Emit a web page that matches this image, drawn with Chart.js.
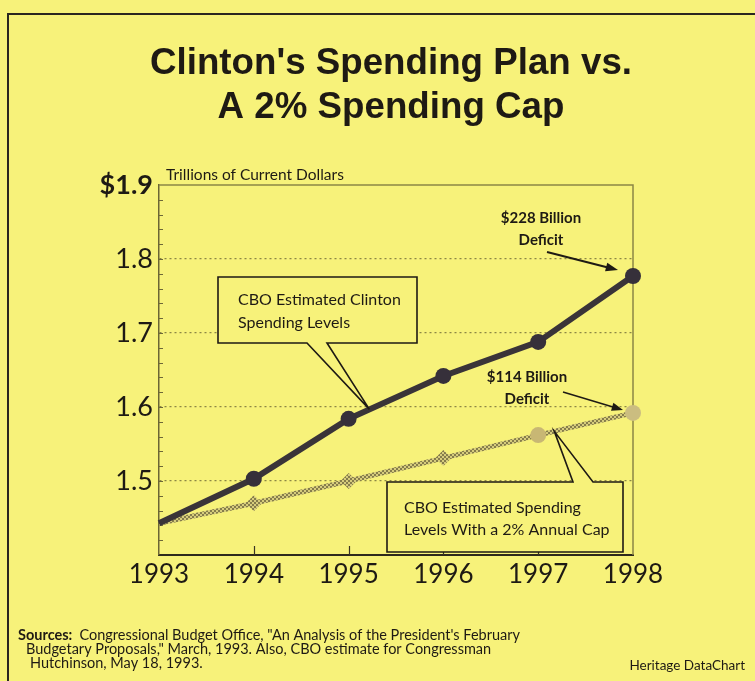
<!DOCTYPE html>
<html>
<head>
<meta charset="utf-8">
<script src="https://cdn.jsdelivr.net/npm/chart.js@4"></script>
<style>
html, body { margin: 0; padding: 0; background: #f7f27a; }
canvas { display: block; }
</style>
</head>
<body>
<canvas id="myChart" width="755" height="681"></canvas>
<script>
// data (trillions of current dollars)
var years = ["1993", "1994", "1995", "1996", "1997", "1998"];
var clintonSpending = [1.443, 1.503, 1.584, 1.642, 1.688, 1.777];
var cappedSpending = [1.443, 1.470, 1.500, 1.531, 1.562, 1.592];
var yMin = 1.4, yMax = 1.9, yStep = 0.1, yMinorStep = 0.02;

var titleLines = ["Clinton's Spending Plan vs.", "A 2% Spending Cap"];
var unitLabel = "Trillions of Current Dollars";
var clintonNote = ["CBO Estimated Clinton", "Spending Levels"];
var capNote = ["CBO Estimated Spending", "Levels With a 2% Annual Cap"];
var deficit1998 = ["$228 Billion", "Deficit"];
var deficitCap = ["$114 Billion", "Deficit"];
var sourceLines = [
    "Congressional Budget Office, \"An Analysis of the President's February",
    "Budgetary Proposals,\" March, 1993. Also, CBO estimate for Congressman",
    "Hutchinson, May 18, 1993."
];
var creditText = "Heritage DataChart";

var BG = "#f7f27a";
var INK = "#1e1a14";
var OLIVE = "#8c8645";
var FONT = "Lato, 'DejaVu Sans', sans-serif";

// checkered texture for the capped series, like the old halftone print
function makeHatch() {
    var c = document.createElement("canvas");
    c.width = 4; c.height = 4;
    var g = c.getContext("2d");
    g.fillStyle = "#d6cc7c";
    g.fillRect(0, 0, 4, 4);
    g.fillStyle = "#857c4c";
    g.fillRect(0, 0, 2, 2);
    g.fillRect(2, 2, 2, 2);
    return g.createPattern(c, "repeat");
}

function lerpPoint(meta, i, t) {
    var a = meta.data[i], b = meta.data[i + 1];
    return { x: a.x + (b.x - a.x) * t, y: a.y + (b.y - a.y) * t };
}

function textLines(ctx, lines, x, y, gap) {
    lines.forEach(function(l, i) { ctx.fillText(l, x, y + i * gap); });
}

// box with a wedge pointing at the series
function callout(ctx, r, side, b1, b2, tip) {
    var l = r.x, t = r.y, rr = r.x + r.w, bb = r.y + r.h;
    ctx.beginPath();
    ctx.moveTo(l, t);
    if (side === "top") {
        ctx.lineTo(b1, t); ctx.lineTo(tip.x, tip.y); ctx.lineTo(b2, t);
    }
    ctx.lineTo(rr, t);
    ctx.lineTo(rr, bb);
    if (side === "bottom") {
        ctx.lineTo(b2, bb); ctx.lineTo(tip.x, tip.y); ctx.lineTo(b1, bb);
    }
    ctx.lineTo(l, bb);
    ctx.closePath();
    ctx.fillStyle = BG;
    ctx.fill();
    ctx.lineWidth = 1.6;
    ctx.strokeStyle = INK;
    ctx.stroke();
}

function arrow(ctx, x1, y1, x2, y2, w, head) {
    var ang = Math.atan2(y2 - y1, x2 - x1);
    ctx.strokeStyle = INK;
    ctx.fillStyle = INK;
    ctx.lineWidth = w;
    ctx.beginPath();
    ctx.moveTo(x1, y1);
    ctx.lineTo(x2 - Math.cos(ang) * head * 0.8, y2 - Math.sin(ang) * head * 0.8);
    ctx.stroke();
    ctx.beginPath();
    ctx.moveTo(x2, y2);
    ctx.lineTo(x2 - head * Math.cos(ang - 0.35), y2 - head * Math.sin(ang - 0.35));
    ctx.lineTo(x2 - head * Math.cos(ang + 0.35), y2 - head * Math.sin(ang + 0.35));
    ctx.closePath();
    ctx.fill();
}

var pagePlugin = {
    id: "page",
    beforeDraw: function(chart) {
        var ctx = chart.ctx;
        ctx.save();
        ctx.fillStyle = BG;
        ctx.fillRect(0, 0, chart.width, chart.height);
        // outer frame (top and left only, as in the scan)
        ctx.strokeStyle = "#2a2620";
        ctx.lineWidth = 2;
        ctx.beginPath();
        ctx.moveTo(8, chart.height);
        ctx.lineTo(8, 14);
        ctx.lineTo(chart.width, 14);
        ctx.stroke();

        // title
        ctx.fillStyle = INK;
        ctx.textAlign = "center";
        ctx.textBaseline = "alphabetic";
        ctx.font = "bold 37px 'Liberation Sans Narrow', 'Liberation Sans', sans-serif";
        var sx = 482 / ctx.measureText(titleLines[0]).width;
        ctx.save();
        ctx.translate(391, 0);
        ctx.scale(sx, 1);
        ctx.fillText(titleLines[0], 0, 74);
        ctx.fillText(titleLines[1], 0, 118);
        ctx.restore();

        // units
        ctx.textAlign = "left";
        ctx.font = "15.5px " + FONT;
        ctx.fillText(unitLabel, 166, 180);

        // sources
        ctx.font = "bold 14.5px " + FONT;
        ctx.fillText("Sources:", 18, 640);
        var sw = ctx.measureText("Sources:  ").width;
        ctx.font = "14.5px " + FONT;
        ctx.fillText(sourceLines[0], 18 + sw, 640);
        ctx.fillText(sourceLines[1], 26, 654);
        ctx.fillText(sourceLines[2], 30, 668);
        ctx.textAlign = "right";
        ctx.font = "13.5px " + FONT;
        ctx.fillText(creditText, 745, 670);
        ctx.restore();
    },
    beforeDatasetsDraw: function(chart) {
        var ctx = chart.ctx, a = chart.chartArea;
        var ys = chart.scales.y, xs = chart.scales.x;
        ctx.save();
        // top and right frame of the plot
        ctx.strokeStyle = OLIVE;
        ctx.lineWidth = 1.5;
        ctx.beginPath();
        ctx.moveTo(a.left, a.top);
        ctx.lineTo(a.right, a.top);
        ctx.lineTo(a.right, a.bottom);
        ctx.stroke();
        // minor ticks on the value axis, pointing inward
        ctx.strokeStyle = "#6d6838";
        ctx.lineWidth = 1.2;
        ctx.beginPath();
        for (var k = 1; k < Math.round((yMax - yMin) / yMinorStep); k++) {
            var py = Math.round(ys.getPixelForValue(yMin + k * yMinorStep)) + 0.5;
            ctx.moveTo(a.left, py);
            ctx.lineTo(a.left + 4, py);
        }
        ctx.stroke();
        // year ticks on the category axis, pointing up
        ctx.strokeStyle = "#3a3424";
        ctx.beginPath();
        for (var i = 1; i < years.length - 1; i++) {
            var px = Math.round(xs.getPixelForValue(i)) + 0.5;
            ctx.moveTo(px, a.bottom);
            ctx.lineTo(px, a.bottom - 9);
        }
        ctx.stroke();
        ctx.restore();
    },
    afterDatasetsDraw: function(chart) {
        var ctx = chart.ctx;
        var mC = chart.getDatasetMeta(0), mK = chart.getDatasetMeta(1);
        ctx.save();

        callout(ctx, { x: 218, y: 277, w: 199, h: 66 }, "bottom", 307, 327, lerpPoint(mC, 2, 0.22));
        callout(ctx, { x: 387, y: 482, w: 236, h: 70 }, "top", 573, 593, lerpPoint(mK, 4, 0.17));

        ctx.fillStyle = INK;
        ctx.textBaseline = "middle";
        ctx.textAlign = "left";
        ctx.font = "16px " + FONT;
        textLines(ctx, clintonNote, 238, 300, 23);
        textLines(ctx, capNote, 404, 508, 22);

        ctx.textAlign = "center";
        ctx.font = "bold 15px " + FONT;
        textLines(ctx, deficit1998, 541, 218, 22);
        textLines(ctx, deficitCap, 527, 377, 22);

        var p98 = mC.data[5], k98 = mK.data[5];
        arrow(ctx, 547, 252, p98.x - 15, p98.y - 6, 2, 13);
        arrow(ctx, 563, 392, k98.x - 10, k98.y - 3, 1.5, 12);
        ctx.restore();
    }
};

var ctx = document.getElementById("myChart").getContext("2d");
var hatch = makeHatch();

new Chart(ctx, {
    type: "line",
    data: {
        labels: years,
        datasets: [{
            label: "CBO Estimated Clinton Spending Levels",
            data: clintonSpending,
            borderColor: "#3a3438",
            backgroundColor: "#36303a",
            borderWidth: 6,
            pointRadius: [0, 8, 8, 8, 8, 8],
            pointBorderWidth: 0,
            pointStyle: "circle",
            tension: 0,
            fill: false
        }, {
            label: "CBO Estimated Spending Levels With a 2% Annual Cap",
            data: cappedSpending,
            borderColor: hatch,
            backgroundColor: [hatch, hatch, hatch, hatch, "#c8b774", "#cbbd80"],
            borderWidth: 5,
            pointRadius: [0, 8, 8, 8, 8, 8],
            pointBorderWidth: 0,
            pointStyle: ["circle", "rectRot", "rectRot", "rectRot", "circle", "circle"],
            tension: 0,
            fill: false
        }]
    },
    options: {
        responsive: false,
        animation: false,
        devicePixelRatio: 1,
        layout: { padding: { left: 0, right: 122, top: 185, bottom: 86 } },
        plugins: {
            legend: { display: false },
            tooltip: { enabled: false },
            title: { display: false }
        },
        scales: {
            x: {
                type: "category",
                offset: false,
                afterFit: function(scale) { scale.height = 40; },
                grid: { display: false, drawTicks: false },
                border: { display: true, color: "#2e2a1c", width: 2 },
                ticks: {
                    padding: 4,
                    color: INK,
                    font: { family: FONT, size: 26 },
                    maxRotation: 0,
                    autoSkip: false
                }
            },
            y: {
                min: yMin,
                max: yMax,
                afterFit: function(scale) { scale.width = 159; },
                afterBuildTicks: function(scale) {
                    var t = [];
                    for (var v = 0; v <= Math.round((yMax - yMin) / yStep); v++) {
                        t.push({ value: +(yMin + v * yStep).toFixed(1) });
                    }
                    scale.ticks = t;
                },
                grid: {
                    drawTicks: false,
                    lineWidth: 1.3,
                    color: function(c) {
                        var v = c.tick ? c.tick.value : 0;
                        return (v > yMin + 0.01 && v < yMax - 0.01) ? OLIVE : "rgba(0,0,0,0)";
                    }
                },
                border: { display: true, color: "#6b6535", width: 1.5, dash: [2, 3] },
                ticks: {
                    padding: 6,
                    color: INK,
                    font: function(c) {
                        return { family: FONT, size: 27, weight: c.tick && c.tick.value >= yMax - 0.01 ? "bold" : "normal" };
                    },
                    callback: function(v) {
                        if (v <= yMin + 0.01) return "";
                        return (v >= yMax - 0.01 ? "$" : "") + v.toFixed(1);
                    }
                }
            }
        }
    },
    plugins: [pagePlugin]
});
</script>
</body>
</html>
